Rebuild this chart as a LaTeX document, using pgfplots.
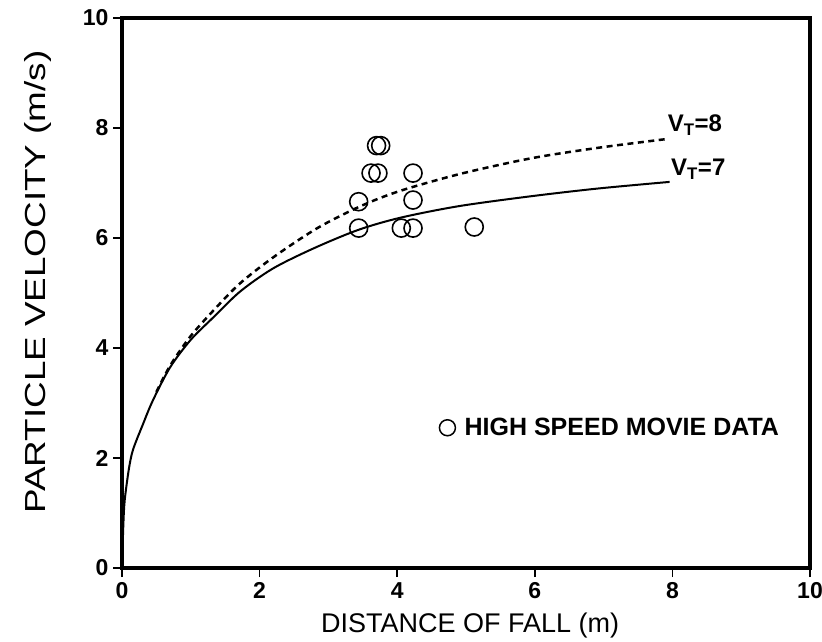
\documentclass[border=0pt]{standalone}
\usepackage{pgfplots}
\pgfplotsset{compat=1.18}
\usepackage{graphicx}
\usepackage{fontspec}
\setmainfont{Liberation Sans}
\begin{document}
\begin{tikzpicture}
\begin{axis}[
  at={(0,0)}, anchor=south west,
  scale only axis, width=688pt, height=550pt,
  xmin=0, xmax=10, ymin=0, ymax=10,
  xtick={0,2,...,10}, ytick={0,2,...,10},
  xtick pos=left, ytick pos=left,
  tick align=outside, major tick length=9pt,
  every tick/.style={line width=1.5pt, black},
  axis line style={line width=3.5pt},
  /pgf/number format/assume math mode=true,
  ticklabel style={font=\bfseries\fontsize{23}{26}\selectfont},
  xticklabel style={yshift=-2pt},
  yticklabel style={xshift=-1pt},
  xlabel={DISTANCE OF FALL (m)},
  ylabel={\scalebox{1.27}[1]{PARTICLE VELOCITY (m/s)}},
  xlabel style={font=\fontsize{27}{30}\selectfont, at={(axis description cs:0.506,0)}, anchor=base, yshift=-64pt},
  ylabel style={font=\fontsize{29}{32}\selectfont, at={(axis description cs:-0.122,0.52)}, anchor=center},
  legend style={at={(axis cs:4.6,2.55)}, anchor=west, draw=none, fill=none,
    font=\bfseries\fontsize{25}{28}\selectfont, inner sep=0pt},
  legend cell align=left,
  legend image code/.code={\draw[line width=1.5pt] (0.3cm,0cm) circle (8pt); \path (0.3cm,0cm) ++(15pt,0pt);},
  clip=false,
]
\addplot[black, line width=2pt, smooth, tension=0.5, forget plot] coordinates {
(0,0) (0.02,0.8) (0.04,1.24) (0.1,1.8) (0.16,2.15) (0.3,2.6) (0.45,3.05) (0.7,3.65)
(1.0,4.15) (1.33,4.56) (1.72,5.03) (2.2,5.45) (2.8,5.82) (3.44,6.15) (4.05,6.37)
(4.9,6.58) (5.95,6.76) (6.92,6.9) (7.96,7.02)};
\addplot[black, line width=2.5pt, dash pattern=on 6pt off 4.5pt, smooth, tension=0.5, forget plot] coordinates {
(0.5,3.2) (0.7,3.68) (1.0,4.22) (1.38,4.75) (1.72,5.18) (2.2,5.65) (2.84,6.18)
(3.47,6.58) (4.05,6.86) (4.93,7.17) (5.95,7.45) (6.92,7.64) (7.92,7.8)};
\addplot[only marks, mark=o, mark size=9pt, mark options={line width=1.6pt}, black] coordinates {
(3.44,6.18) (3.44,6.66) (3.62,7.18) (3.72,7.18) (3.70,7.68) (3.76,7.68)
(4.06,6.18) (4.23,6.18) (4.23,6.69) (4.23,7.18) (5.12,6.2)};
\addlegendentry{HIGH SPEED MOVIE DATA}
\node[anchor=west, font=\bfseries\fontsize{24}{27}\selectfont, inner sep=0pt] at (axis cs:7.93,8.05) {V\textsubscript{T}=8};
\node[anchor=west, font=\bfseries\fontsize{24}{27}\selectfont, inner sep=0pt] at (axis cs:7.98,7.25) {V\textsubscript{T}=7};
\end{axis}
\pgfresetboundingbox
\path[use as bounding box] (-122pt,-73pt) rectangle (700pt,568pt);
\end{tikzpicture}
\end{document}
